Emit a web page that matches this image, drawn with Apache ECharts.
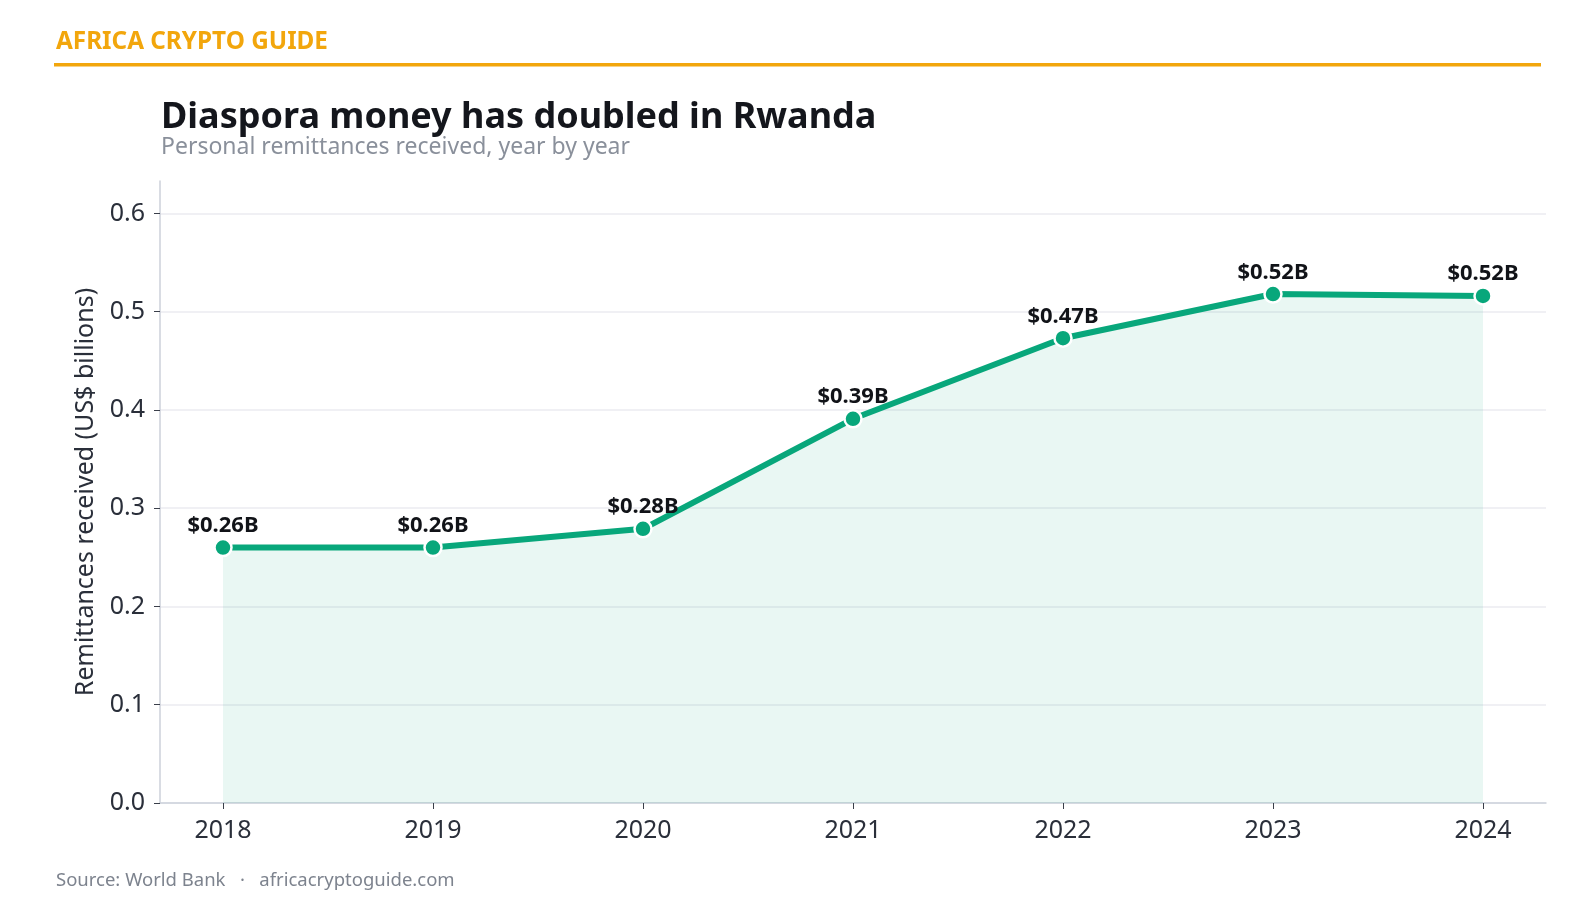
<!DOCTYPE html>
<html>
<head>
<meta charset="utf-8">
<script src="https://cdn.jsdelivr.net/npm/echarts@6/dist/echarts.min.js"></script>
<style>
  html, body { margin: 0; padding: 0; background: #fff; }
  #chart { width: 1595px; height: 913px; }
</style>
</head>
<body>
<div id="chart"></div>
<script>
// years and remittances received (US$ billions)
var years = [2018, 2019, 2020, 2021, 2022, 2023, 2024];
var remittances = [0.260, 0.260, 0.279, 0.391, 0.473, 0.518, 0.516];
var yTicks = [0, 0.1, 0.2, 0.3, 0.4, 0.5, 0.6];

var font = '"Noto Sans", "Open Sans", sans-serif';
var green = '#08a77b';

var chart = echarts.init(document.getElementById('chart'));

var seriesData = years.map(function (y, i) {
  return [y, remittances[i]];
});

var option = {
  backgroundColor: '#ffffff',
  animation: false,
  textStyle: { fontFamily: font },
  title: {
    text: 'Diaspora money has doubled in Rwanda',
    subtext: 'Personal remittances received, year by year',
    left: 156,
    top: 95,
    itemGap: 0,
    textStyle: { fontFamily: font, fontSize: 36, fontWeight: 'bold', color: '#14161c' },
    subtextStyle: { fontFamily: font, fontSize: 23, color: '#8a909b' }
  },
  grid: { left: 160, right: 49, top: 181, bottom: 110 },
  xAxis: {
    type: 'value',
    min: 2017.7,
    max: 2024.3,
    axisLine: { show: true, lineStyle: { color: '#ccd1da', width: 1.5 } },
    axisTick: { show: true, customValues: years, length: 6, lineStyle: { color: '#3a3f4a' } },
    axisLabel: {
      customValues: years,
      formatter: function (v) { return String(v); },
      fontSize: 25, color: '#2a2f3a', margin: 15, fontFamily: font
    },
    splitLine: { show: false }
  },
  yAxis: {
    type: 'value',
    min: 0,
    max: 0.633,
    name: 'Remittances received (US$ billions)',
    nameLocation: 'middle',
    nameGap: 57,
    nameRotate: 90,
    nameTextStyle: { fontSize: 25, color: '#2a2f3a', fontFamily: font },
    axisLine: { show: true, lineStyle: { color: '#ccd1da', width: 1.5 } },
    axisTick: { show: true, customValues: yTicks, length: 6, lineStyle: { color: '#3a3f4a' } },
    axisLabel: {
      customValues: yTicks,
      formatter: function (v) { return v.toFixed(1); },
      fontSize: 25, color: '#2a2f3a', margin: 15, fontFamily: font
    },
    splitLine: { show: true, lineStyle: { color: '#ebebf0', width: 1.5 } }
  },
  series: [{
    type: 'line',
    data: seriesData,
    symbol: 'circle',
    symbolSize: 17,
    lineStyle: { color: green, width: 6 },
    itemStyle: { color: green, borderColor: '#ffffff', borderWidth: 2.5 },
    areaStyle: { color: 'rgba(8,167,123,0.13)' },
    label: {
      show: true,
      position: 'top',
      distance: 1,
      formatter: function (p) { return '$' + p.value[1].toFixed(2) + 'B'; },
      fontFamily: font,
      fontSize: 22,
      fontWeight: 'bold',
      color: '#111318'
    },
    z: 3
  }],
  graphic: [
    {
      type: 'text',
      left: 56,
      top: 30,
      style: {
        text: 'AFRICA CRYPTO GUIDE',
        font: 'bold 24.3px ' + font,
        fill: '#f2a60c'
      }
    },
    {
      type: 'rect',
      shape: { x: 54, y: 63, width: 1487, height: 3.5 },
      style: { fill: '#f2a60c' }
    },
    {
      type: 'text',
      left: 56,
      top: 871,
      style: {
        text: 'Source: World Bank   ·   africacryptoguide.com',
        font: '18.5px ' + font,
        fill: '#7d838e'
      }
    }
  ]
};

chart.setOption(option);
</script>
</body>
</html>
